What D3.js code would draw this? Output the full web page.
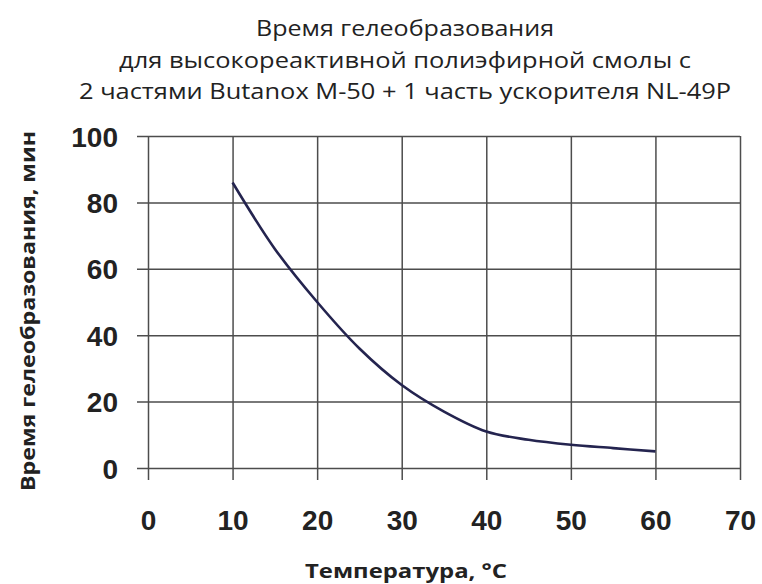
<!DOCTYPE html>
<html>
<head>
<meta charset="utf-8">
<script src="https://cdn.jsdelivr.net/npm/d3@7"></script>
<style>
  html, body { margin: 0; padding: 0; background: #fff; }
  svg { display: block; }
</style>
</head>
<body>
<svg id="chart" width="762" height="584"></svg>
<script>
// ---- data ----
const temperatures = [10, 15, 20, 25, 30, 35, 40, 45, 50, 55, 60];
const gelTimes = [86, 66, 50, 36, 25, 17, 11, 8.5, 7, 6, 5];
const xTicks = [0, 10, 20, 30, 40, 50, 60, 70];
const yTicks = [0, 20, 40, 60, 80, 100];
const titleLines = [
  "Время гелеобразования",
  "для высокореактивной полиэфирной смолы с",
  "2 частями Butanox M-50 + 1 часть ускорителя NL-49P"
];
const xTitle = "Температура, °C";
const yTitle = "Время гелеобразования, мин";

// ---- layout ----
const svg = d3.select("#chart");
const plotLeft = 148, plotRight = 740, plotTop = 136, plotBottom = 468;
const gridColor = "#4d4d4d";

const x = d3.scaleLinear().domain([0, 70]).range([plotLeft, plotRight]);
const y = d3.scaleLinear().domain([0, 100]).range([plotBottom, plotTop]);

// Title
const titleBaselines = [36, 68, 99];
const titleWidths = [298, 572, 652];
svg.append("g").selectAll("text").data(titleLines).join("text")
  .attr("x", 405)
  .attr("y", (d, i) => titleBaselines[i])
  .attr("text-anchor", "middle")
  .attr("font-family", "'Open Sans', 'Liberation Sans', sans-serif")
  .attr("font-size", 21)
  .attr("fill", "#222")
  .attr("textLength", (d, i) => titleWidths[i])
  .attr("lengthAdjust", "spacingAndGlyphs")
  .text(d => d);

// X axis with vertical gridlines extending below the plot
const tickExt = 12;
const xAxis = d3.axisBottom(x)
  .tickValues(xTicks)
  .tickSizeInner(-(plotBottom - plotTop + tickExt))
  .tickSizeOuter(0)
  .tickPadding(30);
const gx = svg.append("g")
  .attr("transform", `translate(0,${plotBottom + tickExt})`)
  .call(xAxis);
gx.select(".domain").remove();
gx.selectAll(".tick line").attr("stroke", gridColor).attr("stroke-width", 1.5);
gx.selectAll(".tick text")
  .attr("font-family", "'Liberation Sans', Arial, sans-serif")
  .attr("font-weight", "bold")
  .attr("font-size", 28)
  .attr("fill", "#222")
  .attr("dy", 0)
  .attr("y", 530 - plotBottom - tickExt);

// Y axis with horizontal gridlines extending left of the plot
const yAxis = d3.axisLeft(y)
  .tickValues(yTicks)
  .tickSizeInner(-(plotRight - plotLeft + 11))
  .tickSizeOuter(0)
  .tickPadding(19);
const gy = svg.append("g")
  .attr("transform", `translate(${plotLeft - 11},0)`)
  .call(yAxis);
gy.select(".domain").remove();
gy.selectAll(".tick line").attr("stroke", gridColor).attr("stroke-width", 1.5);
gy.selectAll(".tick text")
  .attr("font-family", "'Liberation Sans', Arial, sans-serif")
  .attr("font-weight", "bold")
  .attr("font-size", 28)
  .attr("fill", "#222")
  .attr("dy", "0.36em");

// Curve
const line = d3.line()
  .x((d, i) => x(temperatures[i]))
  .y(d => y(d))
  .curve(d3.curveCatmullRom.alpha(0.5));
svg.append("path")
  .datum(gelTimes)
  .attr("d", line)
  .attr("fill", "none")
  .attr("stroke", "#24244f")
  .attr("stroke-width", 2.6)
  .attr("stroke-linejoin", "round");

// Axis titles
svg.append("text")
  .attr("x", 406)
  .attr("y", 578)
  .attr("text-anchor", "middle")
  .attr("font-family", "'Open Sans', 'Liberation Sans', sans-serif")
  .attr("font-weight", "bold")
  .attr("font-size", 19)
  .attr("fill", "#222")
  .attr("textLength", 202)
  .attr("lengthAdjust", "spacingAndGlyphs")
  .text(xTitle);

svg.append("text")
  .attr("transform", "translate(35,311) rotate(-90)")
  .attr("text-anchor", "middle")
  .attr("font-family", "'Open Sans', 'Liberation Sans', sans-serif")
  .attr("font-weight", "bold")
  .attr("font-size", 19)
  .attr("fill", "#222")
  .attr("textLength", 360)
  .attr("lengthAdjust", "spacingAndGlyphs")
  .text(yTitle);
</script>
</body>
</html>
